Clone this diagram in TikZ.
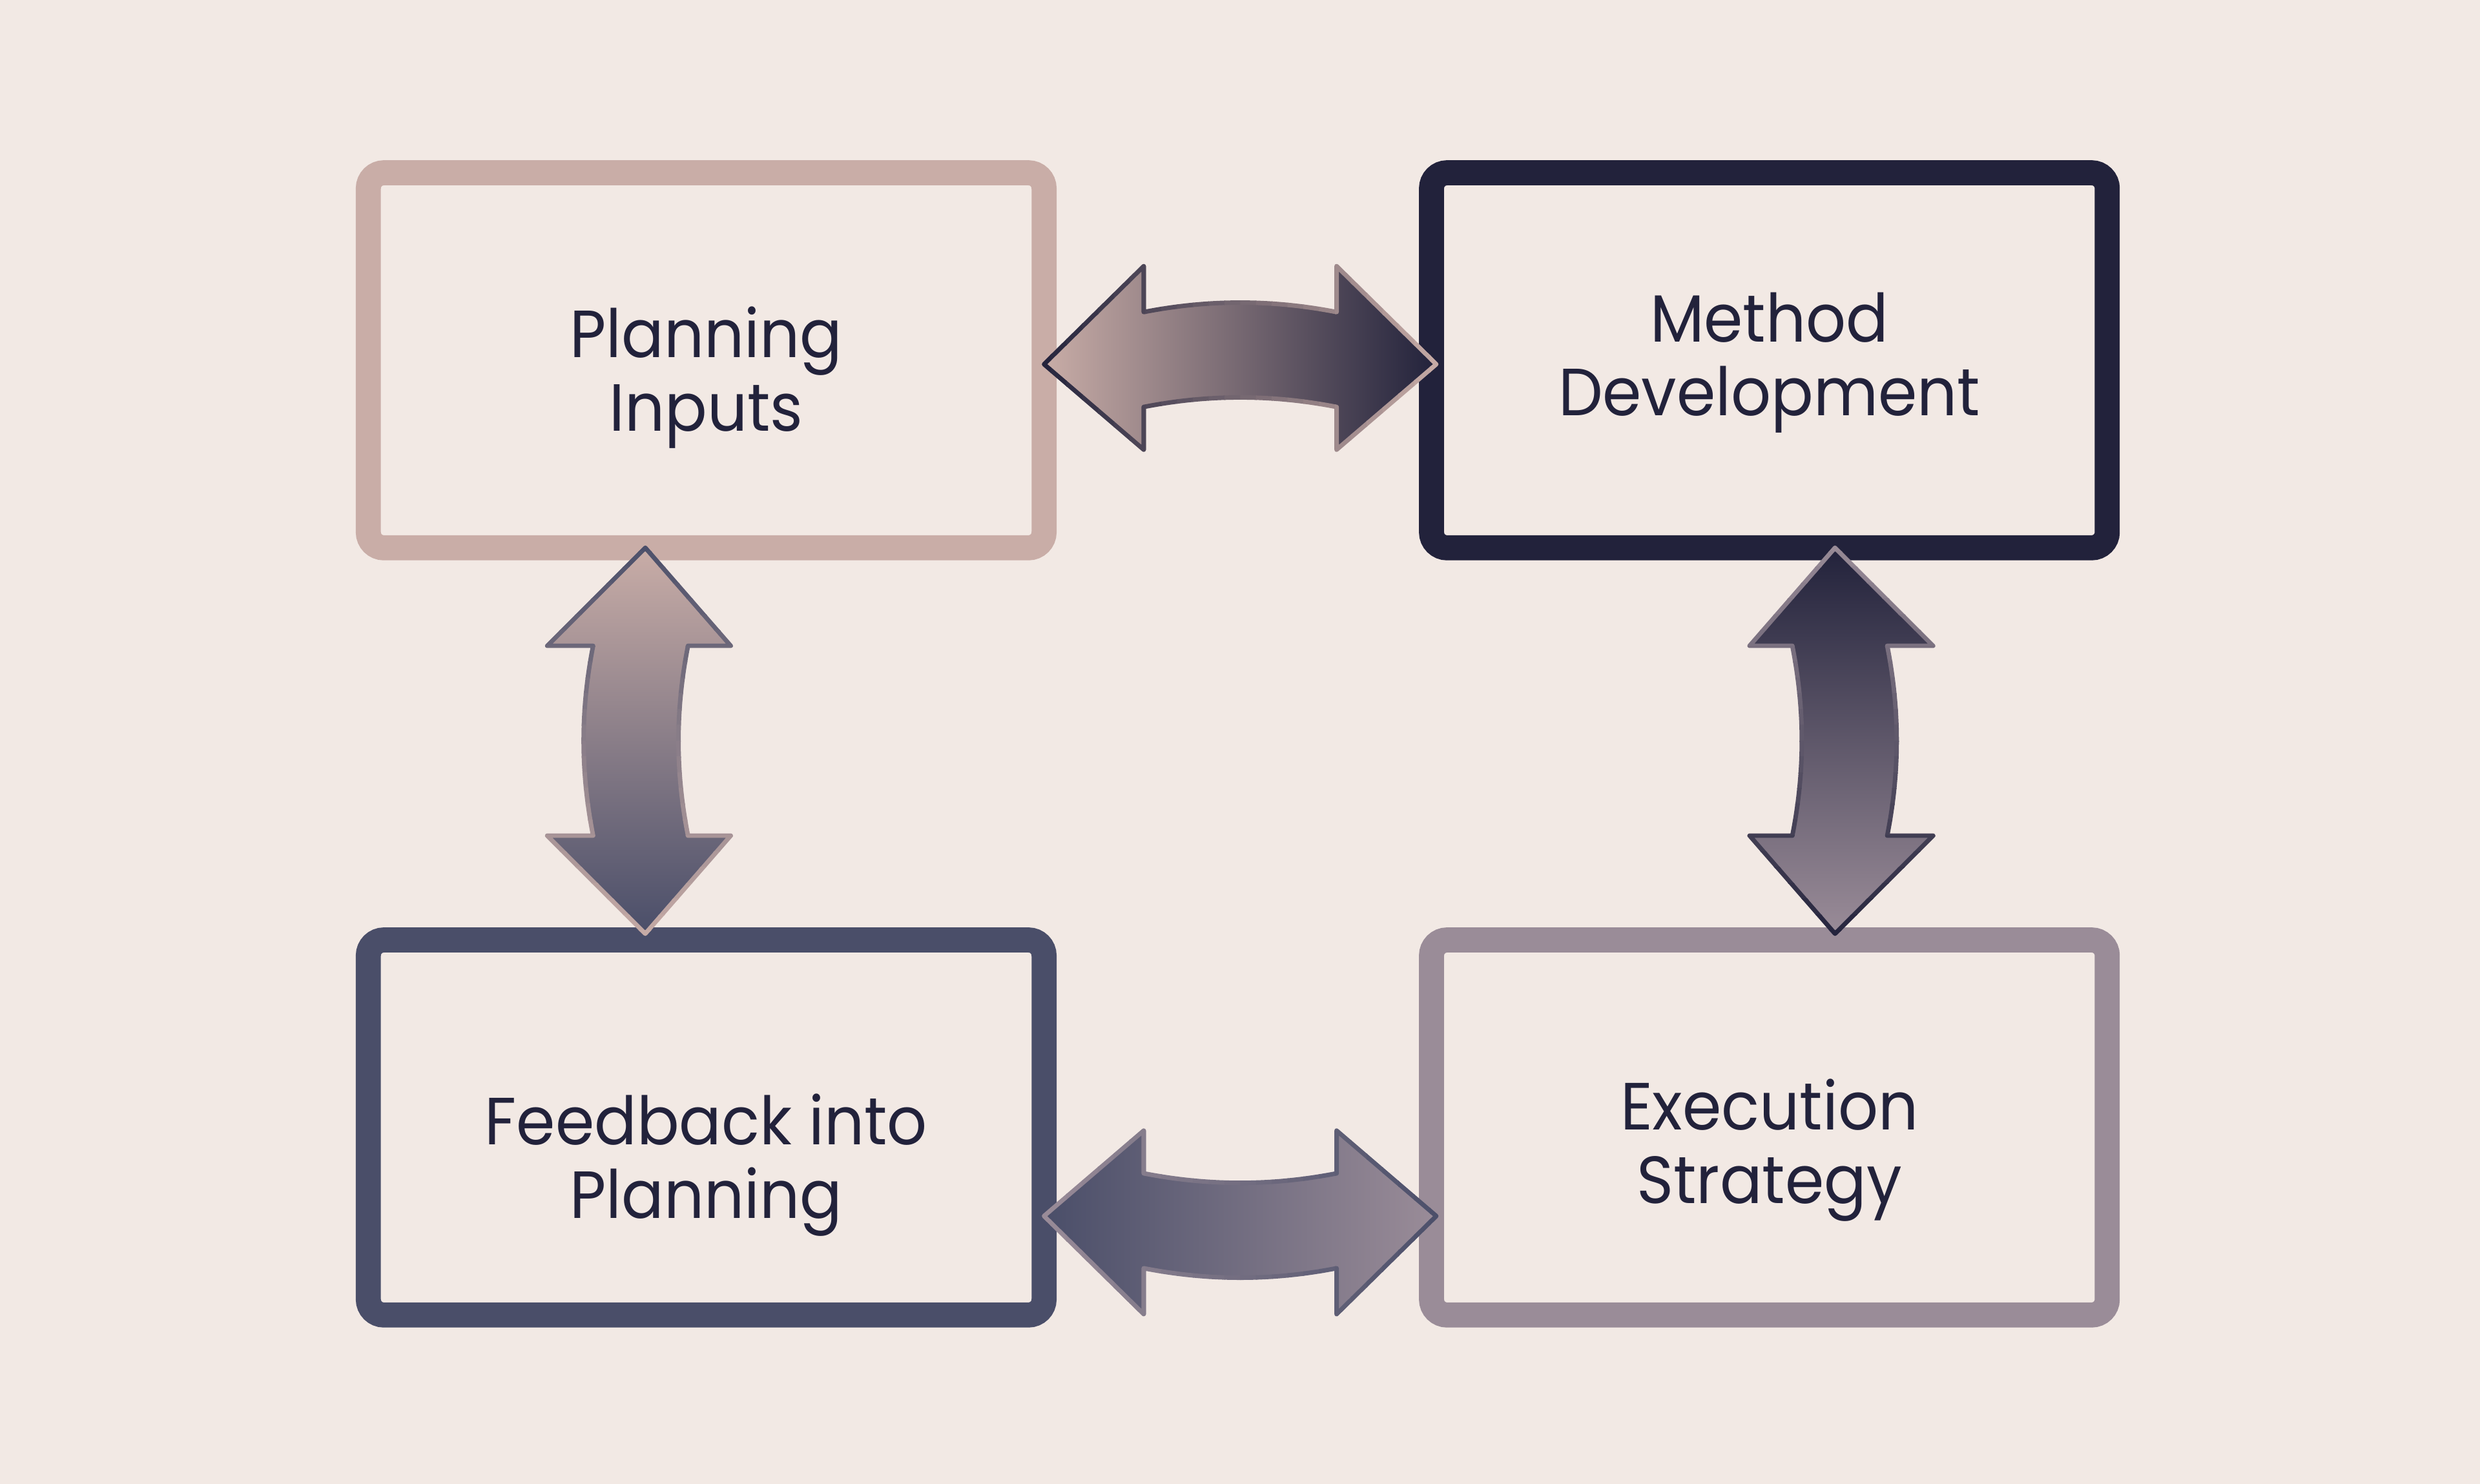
\documentclass[tikz,border=0pt]{standalone}
\usepackage{fontspec}
\setmainfont{Poppins}[FakeStretch=0.94]
\usetikzlibrary{calc, positioning}
\definecolor{cBg}{HTML}{F2E9E4}
\definecolor{cPlan}{HTML}{C9ADA7}
\definecolor{cMethod}{HTML}{22223B}
\definecolor{cFeed}{HTML}{4A4E69}
\definecolor{cExec}{HTML}{9A8C98}

\tikzset{
  stagebox/.style={draw=#1, line width=4.5pt, fill=cBg, rounded corners=2.8pt,
    minimum width=4.27cm, minimum height=2.37cm, inner sep=0pt, align=center,
    text=cMethod, font=\fontsize{12}{13.3}\selectfont},
  % last baseline sits #1 below the centre of the box
  textdrop/.code={%
    \pgfmathsetlengthmacro\dropH{1cm+#1}\pgfmathsetlengthmacro\dropD{1cm-#1}%
    \edef\tmp{\noexpand\tikzset{text height=\dropH, text depth=\dropD}}\tmp},
}

% one bent double arrow, tips at (-124,0) and (124,0), bulging to +y
\newcommand{\arrowpath}[1]{%
  \path[#1] (-124,0) -- (-61,62) -- (-61,33) .. controls (-20,41) and (20,41) .. (61,33)
    -- (61,62) -- (124,0) -- (61,-54) -- (61,-27) .. controls (20,-19) and (-20,-19) .. (-61,-27)
    -- (-61,-54) -- cycle;}

% #1 centre, #2 turn, #3 start colour, #4 end colour, #5 h or v
\newcommand{\cyclearrow}[5]{%
  \begin{scope}[shift={#1}]
    \if h#5
      \begin{scope}[#2]\arrowpath{left color=#3, right color=#4}\end{scope}
    \else
      \begin{scope}[#2]\arrowpath{top color=#3, bottom color=#4}\end{scope}
    \fi
    % outline runs the other way round, strip by strip
    \foreach \i in {0,...,25} {
      \pgfmathtruncatemacro{\pct}{100*(\i+0.5)/26}
      \colorlet{edgecol}{#3!\pct!#4}
      \begin{scope}
        \if h#5
          \clip (-130+10*\i,-90) rectangle (-119.5+10*\i,90);
        \else
          \clip (-90,130-10*\i) rectangle (90,119.5-10*\i);
        \fi
        \begin{scope}[#2]\arrowpath{draw=edgecol, line width=0.8pt, line join=round}\end{scope}
      \end{scope}
    }
  \end{scope}}

\begin{document}
\begin{tikzpicture}[x=0.01cm, y=0.01cm]
  \fill[cBg] (0,0) rectangle (1568,938.35);
  \useasboundingbox (0,0) rectangle (1568,938.35);

  % stages
  \node[stagebox=cPlan, textdrop=0.448cm] (plan) at (446.5,710.5) {Planning\\Inputs};
  \node[stagebox=cMethod, textdrop=0.35cm, right=2.29cm of plan] (method) {Method\\Development};
  \node[stagebox=cFeed, textdrop=0.575cm, below=2.32cm of plan] (feed) {Feedback into\\Planning};
  \node[stagebox=cExec, textdrop=0.48cm, right=2.29cm of feed] (exec) {Execution\\Strategy};

  % arrows between stages
  \cyclearrow{($(plan.east)!0.5!(method.west)+(1.5,-2.5)$)}{}{cPlan}{cMethod}{h}
  \cyclearrow{($(feed.east)!0.5!(exec.west)+(1.5,-56)$)}{yscale=-1}{cFeed}{cExec}{h}
  \cyclearrow{($(plan.south)!0.5!(feed.north)+(-38.5,2)$)}{rotate=90, xscale=0.984}{cPlan}{cFeed}{v}
  \cyclearrow{($(method.south)!0.5!(exec.north)+(41.5,2)$)}{rotate=-90, xscale=0.984}{cMethod}{cExec}{v}
\end{tikzpicture}
\end{document}
